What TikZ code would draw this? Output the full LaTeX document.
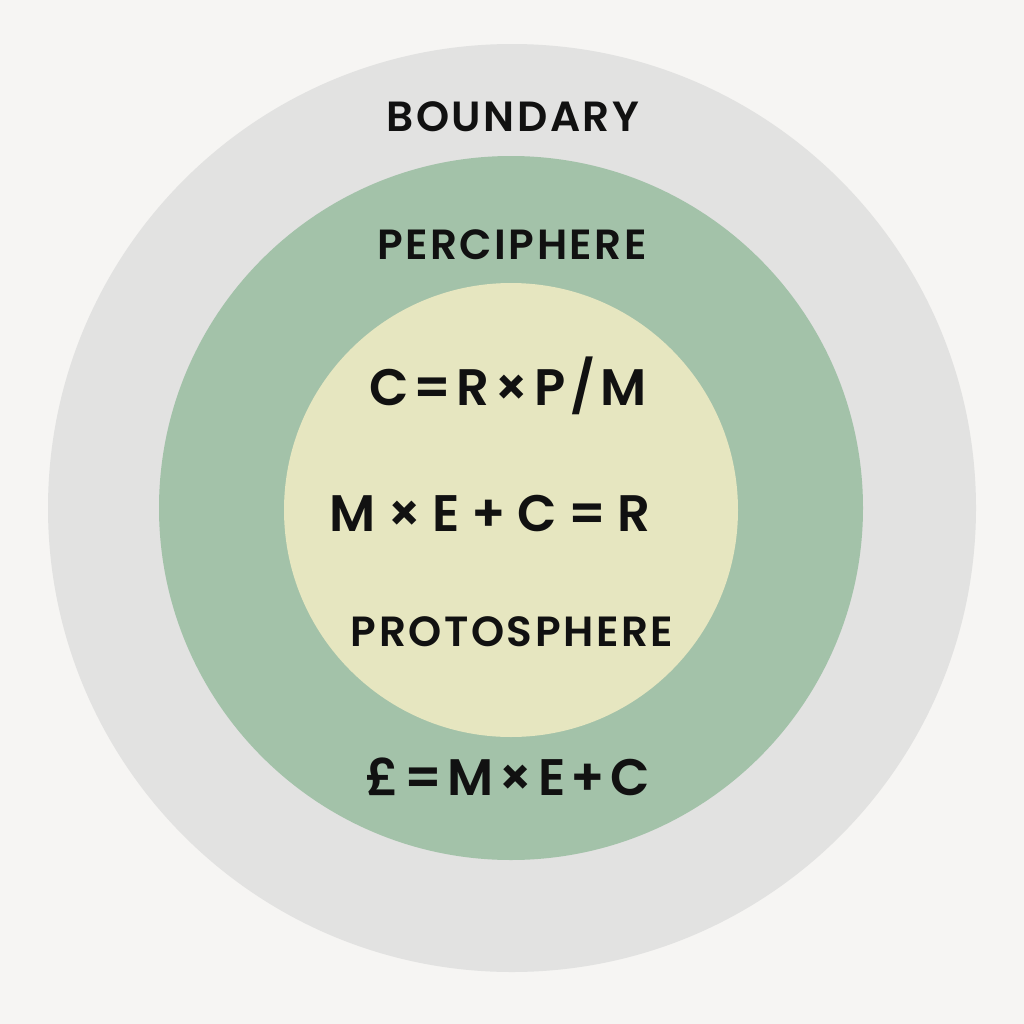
\documentclass[tikz,border=0pt]{standalone}
\usepackage{fontspec}
\setmainfont{Poppins}
\newfontfamily\labelfont[LetterSpace=6]{Poppins SemiBold}
\newfontfamily\eqfont{Poppins SemiBold}
\definecolor{bgc}{HTML}{F6F5F3}
\definecolor{greyc}{HTML}{E2E2E1}
\definecolor{greenc}{HTML}{A3C2A9}
\definecolor{yellowc}{HTML}{E6E6C0}
\definecolor{inkc}{HTML}{111111}
\newcommand{\gapsp}{\hspace{0.1em}}
\newcommand{\widesp}{\hspace{0.22em}}
\tikzset{
  ring/.style={draw=none},
  lbl/.style={text=inkc, font=\labelfont\fontsize{12}{14}\selectfont, inner sep=0pt},
  eqn/.style={text=inkc, font=\eqfont\fontsize{14.6}{18}\selectfont, inner sep=0pt}
}
\begin{document}
\begin{tikzpicture}[x=0.01cm,y=-0.01cm]
\fill[bgc] (0,0) rectangle (1024,1024);
\useasboundingbox (0,0) rectangle (1024,1024);
\fill[greyc] (512,508) circle[radius=464];
\fill[greenc] (511,508) circle[radius=352];
\fill[yellowc] (511,510) circle[radius=227];
\node[lbl] (boundary) at (513,117) {BOUNDARY};
\node[lbl] (periphere) at (512,245) {PERCIPHERE};
\node[eqn] (eq1) at (508,386) {C\gapsp=\gapsp R\gapsp×\gapsp P\gapsp/\gapsp M};
\node[eqn] (eq2) at (490,513) {M\widesp×\widesp E\widesp+\widesp C\widesp=\widesp R};
\node[lbl] (proto) at (512,632) {PROTOSPHERE};
\node[eqn] (eq3) at (508,777) {£\gapsp=\gapsp M\gapsp×\gapsp E\gapsp+\gapsp C};
\end{tikzpicture}
\end{document}
